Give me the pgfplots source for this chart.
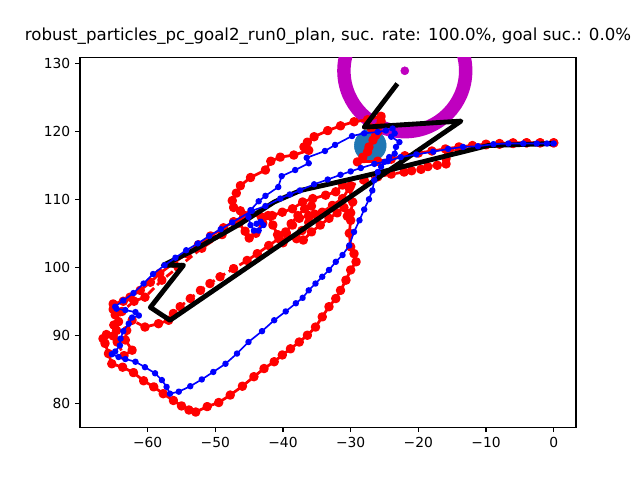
\documentclass[border=0pt]{standalone}
\usepackage{fontspec}
\setmainfont{DejaVu Sans}
\usepackage{pgfplots}
\pgfplotsset{compat=1.18}
\definecolor{mplmag}{HTML}{BF00BF}
\definecolor{cZero}{HTML}{1F77B4}
\begin{document}
\begin{tikzpicture}
\path[use as bounding box] (-0.8in,-0.528in) rectangle (5.6in,4.272in);
\begin{axis}[
  at={(0,0)}, anchor=south west,
  scale only axis, width=4.96in, height=3.696in,
  xmin=-70.0, xmax=3.3, ymin=76.47, ymax=130.84,
  axis line style={line width=0.8pt},
  tick align=outside, tick pos=left,
  major tick length=3.5pt,
  every tick/.style={black, line width=0.8pt},
  xtick={-60,-50,-40,-30,-20,-10,0},
  xticklabels={−60,−50,−40,−30,−20,−10,0},
  ytick={80,90,100,110,120,130},
  yticklabels={80,90,100,110,120,130},
  ticklabel style={font=\fontsize{10}{12}\selectfont},
  title={robust\_particles\_pc\_goal2\_run0\_plan, suc. rate: 100.0\%, goal suc.: 0.0\%},
  title style={at={(0.5,1)}, anchor=base, yshift=6pt, font=\fontsize{12}{14}\selectfont},
  clip marker paths=true,
]
% goal circle (blue)
\addplot[only marks, mark=*, mark size=11.5pt, mark options={draw=cZero, fill=cZero}] coordinates {(-27.1,117.9)};
% magenta ring and dot
\addplot[only marks, mark=o, mark size=44pt, mark options={draw=mplmag, line width=9.7pt}] coordinates {(-22.0,128.9)};
\addplot[only marks, mark=*, mark size=2.9pt, mark options={draw=mplmag, fill=mplmag}] coordinates {(-22.0,128.9)};
% red solid path
\addplot[red, line width=2pt, line join=round, mark=*, mark size=2.4pt, mark options={solid, fill=red, draw=red}] coordinates {
(0.0,118.3)(-2,118.3)(-4,118.3)(-6,118.3)(-8,118.2)(-10,118.1)(-12,117.9)(-14,117.7)(-16,117.4)(-18,117.1)(-20,116.8)(-22,116.4)(-24,115.9)(-26,115.6)(-29.0,115.5)(-28.2,116.2)(-27.5,117.0)(-27.3,117.7)(-26.7,118.7)(-26.3,119.4)(-26.0,119.9)(-27.0,120.5)(-25.5,121.5)(-25.5,122.2)(-27.5,121.7)(-29.5,121.4)(-31.5,120.8)(-33.4,120.1)(-35.4,119.2)(-36.4,118.4)(-36.9,117.7)(-36.2,117.2)(-38.4,116.5)(-40.4,116.2)(-41.8,115.6)(-42.6,114.3)(-44.8,113.2)(-46.3,112.0)(-46.9,110.9)(-47.5,109.8)(-47.3,108.8)(-46.3,108.3)(-44.8,107.8)(-43.2,107.4)(-41.6,107.6)(-40.1,108.1)(-38.6,108.6)(-37.1,109.6)(-35.6,110.1)(-33.7,110.6)(-32.2,111.1)(-31.2,112.1)(-30.2,111.6)(-29.7,109.6)(-30.0,108.0)(-30.0,106.9)(-30.2,105.0)(-30.0,103.0)(-29.5,102.0)(-29.2,100.8)(-30.0,99.6)(-30.7,98.1)(-31.5,96.6)(-32.2,95.4)(-33.2,94.2)(-34.2,92.7)(-35.2,91.2)(-36.4,90.0)(-37.6,89.0)(-38.9,88.0)(-40.1,87.1)(-41.3,86.1)(-42.8,85.1)(-44.3,83.9)(-46.0,82.5)(-47.8,81.2)(-49.5,80.1)(-51.2,79.5)(-52.9,78.7)(-53.9,79.0)(-55.0,79.6)(-56.2,80.4)(-57.7,81.4)(-59.1,82.4)(-60.6,83.3)(-62.1,84.5)(-63.7,85.3)(-65.3,85.8)(-65.8,87.3)(-66.3,88.8)(-66.6,89.5)(-66.1,90.1)(-65.1,89.9)(-64.6,90.7)(-64.3,92.0)(-64.8,93.0)(-65.1,93.8)(-65.1,94.6)(-63.6,95.0)(-62.6,95.6)(-61.1,96.6)(-59.6,97.8)(-58.2,99.1)(-56.2,100.6)(-54.2,102.0)(-52.5,103.3)(-50.7,104.6)(-48.8,105.8)(-47.3,106.7)(-45.8,107.5)
};
% red scribble in the middle region
\addplot[red, line width=2pt, line join=round, mark=*, mark size=2.4pt, mark options={solid, fill=red, draw=red}] coordinates {
(-46.6,106.6)(-45.6,105.3)(-45.0,104.3)(-44.0,105.0)(-43.0,106.5)(-42.2,107.6)(-41.5,106.2)(-40.8,104.8)(-40.0,103.6)(-39.5,105.0)(-38.8,106.4)(-37.8,107.6)(-36.8,108.6)(-35.8,109.0)(-35.3,107.8)(-36.2,106.6)(-37.2,105.4)(-38.0,104.2)(-37.0,104.0)(-35.8,105.2)(-34.5,106.2)(-33.2,107.2)(-32.0,108.0)(-31.0,108.8)(-30.5,107.5)
};
% red dashed path
\addplot[red, line width=2pt, dash pattern=on 6pt off 3pt, line join=round, mark=*, mark size=2.4pt, mark options={solid, fill=red, draw=red}] coordinates {
(0.0,118.3)(-2,118.3)(-4,118.3)(-6,118.2)(-8,118.1)(-10,118.0)(-12,117.8)(-14,117.5)(-15.6,117.0)(-15.9,116.0)(-15.9,115.2)(-17.2,115.0)(-18.6,114.8)(-19.6,114.4)(-21,114.2)(-22.1,114.0)(-24.0,113.7)(-26,113.3)(-28,112.8)(-30,112.0)(-31.2,110.1)(-32.7,109.1)(-34.2,108.1)(-36.2,107.6)(-37.6,107.2)(-38.6,106.2)(-39.6,105.2)(-40.6,104.2)(-42.1,103.2)(-43.8,102.0)(-45.3,101.0)(-47.3,99.8)(-49.3,98.6)(-50.8,97.6)(-52.2,96.6)(-53.7,95.4)(-55.2,94.2)(-56.2,93.2)(-56.9,92.2)(-58.4,91.7)(-60.4,91.2)(-62.3,92.2)(-63.1,90.7)(-63.3,89.3)(-62.3,87.8)(-63.5,87.0)(-64.5,89.0)(-65.0,91.5)(-63.8,93.5)(-62.0,95.0)(-60.4,95.6)(-57.9,98.1)(-55.5,100.0)(-52.0,102.8)(-49.0,104.8)(-46.5,106.5)
};
% black planned path
\addplot[black, line width=3.5pt, line join=round] coordinates {
(0.1,118.2)(-9.7,117.9)(-25.5,114.0)(-28.5,113.3)(-32.9,112.3)(-37.4,111.3)(-41.3,109.6)(-46.3,106.4)(-53.2,102.5)(-57.7,100.3)(-54.7,100.3)(-59.6,94.1)(-56.7,92.2)(-13.7,121.5)(-28.0,120.6)(-23.1,127.0)
};
% blue executed path
\addplot[blue, line width=1.2pt, line join=round, mark=*, mark size=1.7pt, mark options={fill=blue, draw=blue}] coordinates {
(0.0,118.2)(-1.0,118.2)(-2.5,118.2)(-4.5,118.2)(-6.7,118.2)(-8.9,118.1)(-11.2,117.8)(-13.4,117.7)(-15.6,117.4)(-17.8,117.0)(-20.3,116.6)(-22.6,116.2)(-24.5,115.6)(-26.5,115.2)(-28.5,114.6)(-30.0,114.1)(-31.5,113.6)(-33.4,112.9)(-35.4,112.2)(-37.5,111.3)(-39.0,110.7)(-40.4,110.1)(-42.6,109.0)(-44.6,108.3)(-47.5,106.6)(-49.2,105.6)(-50.9,104.6)(-52.6,103.5)(-54.3,102.5)(-55.9,101.4)(-57.5,100.3)(-59.2,99.0)(-60.6,97.6)(-62.1,96.2)(-63.6,95.1)(-64.8,94.2)(-64.6,93.9)(-63.3,93.7)(-61.8,93.4)(-61.3,92.9)(-62.3,92.6)(-62.8,91.7)(-63.6,90.6)(-64.0,89.5)(-64.1,88.5)(-64.8,87.6)(-65.3,87.2)(-64.3,86.8)(-63.3,86.5)(-61.8,86.1)(-60.4,85.3)(-58.9,84.4)(-57.9,83.4)(-57.2,82.4)(-56.7,81.4)(-55.4,81.7)(-53.7,82.5)(-52.0,83.5)(-50.3,84.6)(-48.5,85.8)(-46.8,87.3)(-45.1,89.0)(-43.1,90.6)(-41.3,92.2)(-39.6,93.5)(-38.1,94.7)(-37.1,95.5)(-36.2,96.6)(-35.2,97.6)(-34.2,98.6)(-33.2,99.6)(-32.2,100.8)(-31.2,101.8)(-30.2,103.2)(-29.5,105.2)(-28.7,106.9)(-28.0,108.5)(-27.3,110.0)(-26.8,111.3)(-26.5,112.8)(-26.0,114.0)(-25.5,114.8)(-25.0,115.5)(-24.3,116.2)(-23.5,116.7)(-23.3,117.7)(-22.8,118.4)(-24.0,119.2)(-23.5,119.7)(-23.8,120.4)(-24.8,120.1)(-26.0,119.9)(-28.0,119.7)(-29.8,119.3)(-32.3,118.0)(-33.8,117.1)(-36.5,116.1)(-36.2,115.3)(-38.2,114.3)(-40.2,113.4)(-40.7,111.8)(-42.6,110.5)(-43.6,109.7)(-44.8,108.4)(-45.1,107.4)(-44.8,106.2)(-44.3,105.4)(-43.6,105.4)(-42.9,106.2)(-43.3,106.7)(-43.9,106.4)
};
\end{axis}
\end{tikzpicture}
\end{document}
